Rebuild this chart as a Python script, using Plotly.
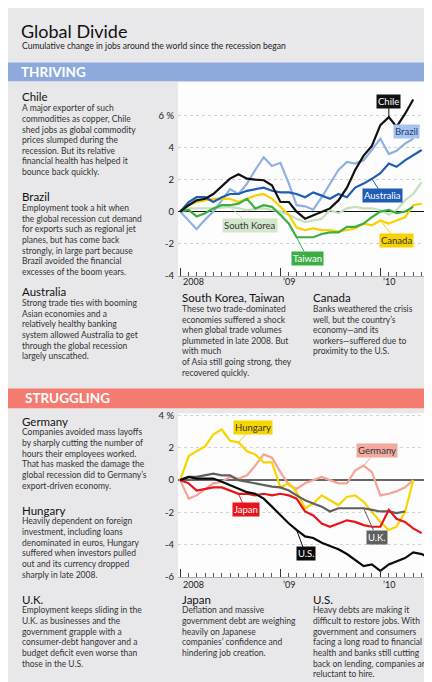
import pandas as pd
import plotly.graph_objects as go

W, H = 432, 682
FONT = "Lato"

# ---- data: cumulative change in jobs, % since Jan 2008 (monthly) ----
START = "2008-01-01"

chile = [0, 0.4, 0.7, 0.8, 1.1, 1.6, 2.06, 2.33, 2.06, 2.0, 1.96, 1.65, 0.6, 0.6, 0.0,
         -0.44, -0.23, 0.0, 0.2, 0.7, 1.5, 2.6, 3.5, 4.1, 5.4, 5.9, 5.3, 6.1, 7.0]
brazil = [0, -0.55, -1.1, -0.5, 0.0, 0.7, 1.4, 1.1, 1.75, 2.6, 3.4, 2.85, 3.05, 1.75, 0.4,
          0.33, 0.12, 0.9, 1.75, 2.6, 3.1, 3.0, 3.2, 3.9, 4.55, 3.6, 3.8, 4.25, 4.55]
australia = [0, 0.6, 0.9, 0.9, 0.6, 0.9, 1.1, 1.1, 1.3, 1.4, 1.5, 1.3, 1.2, 1.2, 1.1,
             0.9, 1.2, 1.0, 0.8, 1.1, 0.9, 1.5, 1.75, 2.05, 2.4, 3.0, 2.8, 3.2, 3.5, 3.85]
south_korea = [0, 0.2, 0.2, 0.2, 0.2, 0.25, 0.3, 0.2, 0.1, 0.15, 0.2, 0.1, 0.0, -0.2, -0.45,
               -0.65, -0.55, -0.45, 0.1, -0.1, 0.2, 0.3, 0.2, 0.2, 0.1, -0.2, 0.1, 0.7, 1.1, 1.85]
canada = [0, 0.4, 0.6, 0.7, 0.8, 0.8, 0.8, 0.6, 0.8, 1.0, 1.1, 0.8, 0.3, -0.2, -1.0,
          -1.15, -1.05, -1.15, -1.15, -1.25, -1.15, -1.05, -0.75, -0.85, -0.55, -0.75, -0.55, -0.35, 0.4, 0.5]
taiwan = [0, 0.1, -0.3, -0.1, 0.2, 0.4, 0.4, 0.5, 0.8, 0.2, 0.4, 0.3, -0.2, -0.75, -1.6,
          -1.6, -1.6, -1.4, -1.3, -1.3, -0.95, -0.95, -0.75, -0.35, 0.0, 0.1, -0.1, 0.0, 0.3]

hungary = [0, 1.5, 1.8, 2.1, 2.85, 3.15, 2.45, 2.35, 1.8, 1.6, 1.1, 1.1, -0.45, -0.2, -0.75,
           -1.75, -1.45, -0.95, -1.25, -1.55, -1.05, -0.95, -1.35, -1.95, -2.6, -3.1, -2.9, -2.0, 0.0]
germany = [0, -1.15, -0.95, -0.55, -0.2, -0.1, 0.2, 0.1, 0.3, 0.9, 1.6, 1.4, 0.5, -0.3, -0.55,
           -0.2, 0.0, 0.2, 0.0, -0.2, -0.2, 0.6, 0.9, 0.5, -0.95, -0.85, -0.7, -0.45, 0.0]
japan = [0, -0.2, -0.65, -0.55, -0.45, -0.45, -0.65, -0.85, -0.85, -0.95, -0.85, -0.95, -0.85, -0.95, -1.15,
         -1.95, -2.2, -2.7, -2.9, -2.7, -2.5, -2.6, -2.8, -2.9, -2.9, -1.85, -2.4, -2.6, -3.0, -3.3]
uk = [0, 0.2, 0.2, 0.3, 0.4, 0.3, 0.3, 0.0, -0.1, -0.2, -0.3, -0.4, -0.45, -0.65, -0.95,
      -1.25, -1.45, -1.65, -1.95, -1.75, -1.75, -1.75, -1.75, -1.85, -1.95, -1.95, -2.05, -1.95]
us = [0, 0.2, 0.1, 0.1, 0.1, -0.1, -0.3, -0.55, -0.75, -0.85, -1.15, -1.65, -2.2, -2.7, -3.1,
      -3.5, -3.6, -3.9, -4.1, -4.3, -4.6, -4.95, -5.35, -5.25, -5.65, -5.25, -5.05, -4.85, -4.5, -4.6, -4.85]

year_ticks = ["2008-01-01", "2009-01-01", "2010-01-01"]
year_labels = ["2008", "\u201909", "\u201910"]
top_ticks = [-4, -2, 0, 2, 4, 6]
top_tick_text = ["-4", "-2", "0", "2", "4", "6 %"]
bot_ticks = [-6, -4, -2, 0, 2, 4]
bot_tick_text = ["-6", "-4", "-2", "0", "2", "4 %"]

# (name, values, line colour, label bg, label text colour, label month, ax, ay)
thriving = [
    ("South Korea", south_korea, "#c6e0bd", "#d3e8cb", "#333333", 6, 20, 19),
    ("Brazil", brazil, "#8fb0e3", "#a9c3ec", "#1d3f7a", 28, 7, -15),
    ("Canada", canada, "#f7d200", "#f7d200", "#333333", 24, 16, 20),
    ("Taiwan", taiwan, "#3aae45", "#3aae45", "white", 14, 11, 21),
    ("Australia", australia, "#1f5cb5", "#1f5cb5", "white", 23, 11, 17),
    ("Chile", chile, "#111111", "#111111", "white", 25, 0, -16),
]
struggling = [
    ("Germany", germany, "#f5a397", "#f5aaa0", "#333333", 22, 13, -15),
    ("Hungary", hungary, "#f7d600", "#f7d600", "#333333", 7, 14, -15),
    ("U.K.", uk, "#606060", "#606060", "white", 22, 13, 29),
    ("Japan", japan, "#e8141c", "#e8141c", "white", 7, 7, 16),
    ("U.S.", us, "#0a0a0a", "#0a0a0a", "white", 14, 9, 24),
]
# labels that sit past the right edge of the plot are drawn as paper text
# (axis-referenced annotations get cut off at the plot edge)
outside_labels = {"Brazil": (412, 114)}


def px(x):
    return x / W


def py(y):
    return 1 - y / H


def months(n):
    return pd.date_range(START, periods=n, freq="MS")


fig = go.Figure()
annotations = []

for xa, ya, group in [("x", "y", thriving), ("x2", "y2", struggling)]:
    for name, vals, color, bg, tc, m, ax, ay in group:
        dates = months(len(vals))
        fig.add_trace(go.Scatter(x=dates, y=vals, mode="lines", name=name,
                                 line=dict(color=color, width=2.2), xaxis=xa, yaxis=ya,
                                 hoverinfo="skip", showlegend=False))
        label_font = dict(family=FONT, size=9.5, color=tc)
        if name in outside_labels:
            # leader only, box placed separately
            annotations.append(dict(x=dates[m], y=vals[m], xref=xa, yref=ya, text="",
                                    showarrow=True, arrowhead=0, arrowwidth=1,
                                    arrowcolor=color, ax=ax, ay=ay, standoff=0))
            lx, ly = outside_labels[name]
            annotations.append(dict(x=px(lx), y=py(ly), xref="paper", yref="paper", text=name,
                                    showarrow=False, bgcolor=bg, borderpad=1, font=label_font))
            continue
        annotations.append(dict(x=dates[m], y=vals[m], xref=xa, yref=ya, text=name,
                                showarrow=True, arrowhead=0, arrowwidth=1, arrowcolor=color,
                                ax=ax, ay=ay, bgcolor=bg, borderpad=1, standoff=0,
                                font=label_font))
    for d, lab in zip(year_ticks, year_labels):
        annotations.append(dict(x=d, y=py(274) if xa == "x" else py(580), xref=xa, yref="paper",
                                text=lab, showarrow=False, xanchor="left", yanchor="middle",
                                xshift=1, font=dict(family=FONT, size=9, color="#222")))

axis_x = dict(type="date", range=["2007-12-24", "2010-07-05"], tickvals=year_ticks,
              showticklabels=False, ticks="inside", ticklen=8, tickcolor="#333", tickwidth=1,
              minor=dict(dtick="M1", tick0=START, ticks="inside", ticklen=4, tickcolor="#555"),
              showgrid=False, zeroline=False, showline=True, linecolor="#aaaaaa", linewidth=1)
axis_y = dict(showgrid=True, gridcolor="#d4d4d4", griddash="dot", gridwidth=1, ticks="",
              tickfont=dict(family=FONT, size=9.5, color="#222"), ticklabelstandoff=3,
              zeroline=True, showline=False)

fig.update_layout(
    width=W, height=H, margin=dict(l=0, r=0, t=0, b=0),
    paper_bgcolor="#e8e8ea", plot_bgcolor="#fdfdfd",
    xaxis=dict(axis_x, domain=[px(170), px(423)], anchor="y"),
    yaxis=dict(axis_y, domain=[py(268), py(72)], anchor="x",
               range=[(203 - 268) / 16.2, (203 - 72) / 16.2],
               tickvals=top_ticks, ticktext=top_tick_text, zerolinecolor="#111", zerolinewidth=1),
    xaxis2=dict(axis_x, domain=[px(170), px(423)], anchor="y2"),
    yaxis2=dict(axis_y, domain=[py(573), py(407)], anchor="x2",
                range=[(474.7 - 573) / 16.26, (474.7 - 407) / 16.26],
                tickvals=bot_ticks, ticktext=bot_tick_text, zerolinecolor="#666", zerolinewidth=1.5),
)

shapes = [
    dict(type="rect", xref="paper", yref="paper", x0=0, x1=1, y0=py(71), y1=py(52),
         fillcolor="#8eaadd", line_width=0, layer="below"),
    dict(type="rect", xref="paper", yref="paper", x0=0, x1=1, y0=py(402), y1=py(382),
         fillcolor="#f57a70", line_width=0, layer="below"),
    dict(type="line", xref="paper", yref="paper", x0=px(423), x1=px(423), y0=py(268), y1=py(72),
         line=dict(color="#c8c8c8", width=1)),
    dict(type="line", xref="paper", yref="paper", x0=px(423), x1=px(423), y0=py(573), y1=py(407),
         line=dict(color="#c8c8c8", width=1)),
]


def text(x, y, s, size, color="#222"):
    annotations.append(dict(x=px(x), y=py(y), xref="paper", yref="paper", text=s,
                            showarrow=False, xanchor="left", yanchor="middle", align="left",
                            font=dict(family=FONT, size=size, color=color)))


text(11, 20, "Global Divide", 18, "#111")
text(12, 35, "Cumulative change in jobs around the world since the recession began", 8.6, "#222")
text(11, 61.5, "<b>THRIVING</b>", 13.5, "white")
text(15, 392, "<b>STRUGGLING</b>", 13.5, "white")

LINE = 10.75

# (x, heading y, heading, body lines)
blocks = [
    (12, 87, "Chile", ["A major exporter of such", "commodities as copper, Chile",
                       "shed jobs as global commodity", "prices slumped during the",
                       "recession. But its relative", "financial health has helped it",
                       "bounce back quickly."]),
    (12, 188, "Brazil", ["Employment took a hit when", "the global recession cut demand",
                         "for exports such as regional jet", "planes, but has come back",
                         "strongly, in large part because", "Brazil avoided the financial",
                         "excesses of the boom years."]),
    (12, 284, "Australia", ["Strong trade ties with booming", "Asian economies and a",
                            "relatively healthy banking", "system allowed Australia to get",
                            "through the global recession", "largely unscathed."]),
    (172, 290, "South Korea, Taiwan", ["These two trade-dominated", "economies suffered a shock",
                                       "when global trade volumes", "plummeted in late 2008. But",
                                       "with much", "of Asia still going strong, they",
                                       "recovered quickly."]),
    (303, 290, "Canada", ["Banks weathered the crisis", "well, but the country\u2019s",
                          "economy\u2014and its", "workers\u2014suffered due to",
                          "proximity to the U.S."]),
    (12, 415, "Germany", ["Companies avoided mass layoffs", "by sharply cutting the number of",
                          "hours their employees worked.", "That has masked the damage the",
                          "global recession did to Germany\u2019s", "export-driven economy."]),
    (12, 505, "Hungary", ["Heavily dependent on foreign", "investment, including loans",
                          "denominated in euros, Hungary", "suffered when investors pulled",
                          "out and its currency dropped", "sharply in late 2008."]),
    (12, 595, "U.K.", ["Employment keeps sliding in the", "U.K. as businesses and the",
                       "government grapple with a", "consumer-debt hangover and a",
                       "budget deficit even worse than", "those in the U.S."]),
    (172, 595, "Japan", ["Deflation and massive", "government debt are weighing",
                         "heavily on Japanese", "companies\u2019 confidence and",
                         "hindering job creation."]),
    (303, 595, "U.S.", ["Heavy debts are making it", "difficult to restore jobs. With",
                        "government and consumers", "facing a long road to financial",
                        "health and banks still cutting", "back on lending, companies are",
                        "reluctant to hire."]),
]

for x, y, head, body in blocks:
    text(x, y, head, 11.5, "#111")
    for i, line in enumerate(body):
        text(x, y + 11.5 + i * LINE, line, 8.5, "#333")

fig.update_layout(shapes=shapes, annotations=annotations)
fig.write_html("out.html")
